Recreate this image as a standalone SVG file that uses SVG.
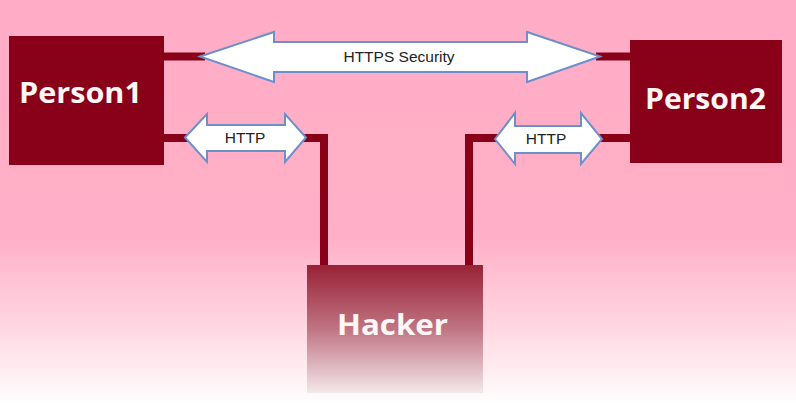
<svg xmlns="http://www.w3.org/2000/svg" width="796" height="406" viewBox="0 0 796 406">
<defs>
<linearGradient id="bg" x1="0" y1="0" x2="0" y2="406" gradientUnits="userSpaceOnUse">
<stop offset="0" stop-color="#FFADC6"/>
<stop offset="0.58" stop-color="#FFAFC7"/>
<stop offset="0.8" stop-color="#FFD6E1"/>
<stop offset="1" stop-color="#FFFFFF"/>
</linearGradient>
<linearGradient id="hk" x1="0" y1="0" x2="0" y2="1">
<stop offset="0" stop-color="#982135"/>
<stop offset="0.5" stop-color="#C07483"/>
<stop offset="1" stop-color="#F4E8EA"/>
</linearGradient>
<style>
.box{fill:#890019}
.wire{stroke:#890019;stroke-width:8;fill:none}
.arrow{fill:#FFFFFF;stroke:#6F8FCA;stroke-width:2}
.lbl{font-family:"Liberation Sans",Arial,sans-serif;font-size:15.5px;fill:#222;text-anchor:middle}
.name{font-family:"Open Sans","Noto Sans",sans-serif;font-weight:bold;font-size:28px;fill:#FFF6F6}
</style>
</defs>
<rect width="796" height="406" fill="url(#bg)"/>
<g id="connectors">
<path class="wire" d="M163 56.5H205"/>
<path class="wire" d="M596 56.5H630"/>
<path class="wire" d="M163 138H190"/>
<path class="wire" d="M300 138H324V266"/>
<path class="wire" d="M469 266V138H500"/>
<path class="wire" d="M597 138H630"/>
<g id="https-arrow">
<polygon class="arrow" points="200,56.5 274,32 274,42 527,42 527,32 600,56.5 527,82 527,72 274,72 274,82"/>
<text class="lbl" x="399" y="62">HTTPS Security</text>
</g>
<g id="http-left">
<polygon class="arrow" points="185,137.5 207,114 207,125 285,125 285,114 306,137.5 285,162 285,151 207,151 207,162"/>
<text class="lbl" x="245" y="143">HTTP</text>
</g>
<g id="http-right">
<polygon class="arrow" points="495,139 515,113 515,126 581,126 581,113 602,139 581,164 581,153 515,153 515,164"/>
<text class="lbl" x="546" y="144">HTTP</text>
</g>
</g>
<g id="person1">
<rect class="box" x="9" y="36" width="155" height="129"/>
<text class="name" x="19" y="103" textLength="123" lengthAdjust="spacingAndGlyphs">Person1</text>
</g>
<g id="person2">
<rect class="box" x="630" y="40" width="152" height="123"/>
<text class="name" x="645" y="109" textLength="121" lengthAdjust="spacingAndGlyphs">Person2</text>
</g>
<g id="hacker">
<rect x="307" y="265" width="176" height="128" fill="url(#hk)"/>
<text class="name" x="337" y="335" textLength="111" lengthAdjust="spacingAndGlyphs">Hacker</text>
</g>
</svg>
